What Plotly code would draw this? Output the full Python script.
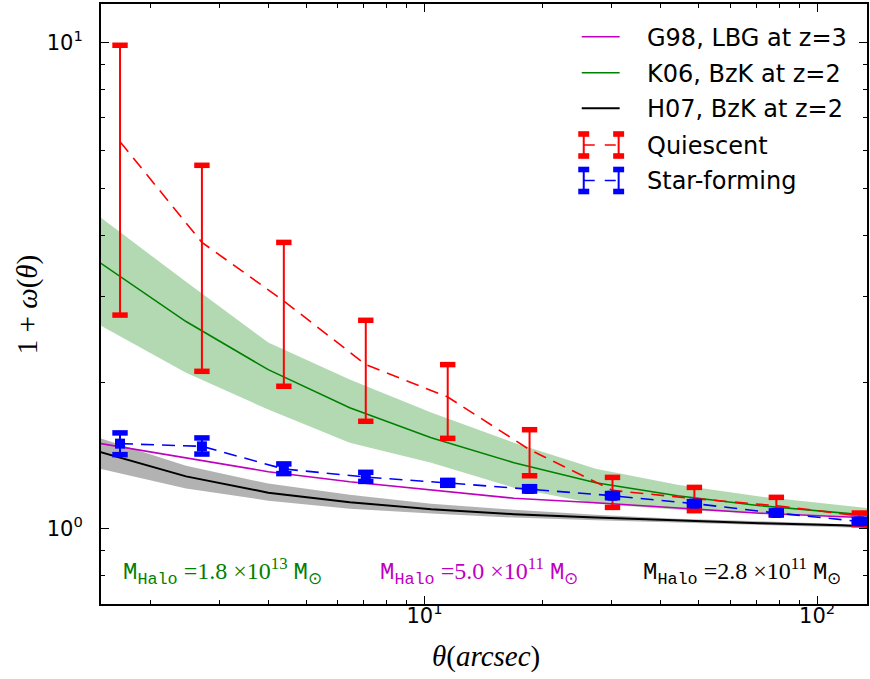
import numpy as np
import plotly.graph_objects as go

# ---------------- data ----------------
theta_bins = [1.677, 2.711, 4.383, 7.087, 11.46, 18.52, 30.12, 48.69, 78.74, 128.1]

q_mean  = [6.25, 3.88, 2.94, 2.175, 1.866, 1.454, 1.199, 1.153, 1.115, 1.063]
q_upper = [9.87, 5.59, 3.88, 2.683, 2.175, 1.598, 1.275, 1.216, 1.160, 1.077]
q_lower = [2.75, 2.107, 1.963, 1.663, 1.534, 1.285, 1.106, 1.089, 1.069, 1.019]

s_mean  = [1.496, 1.477, 1.327, 1.277, 1.242, 1.207, 1.169, 1.126, 1.077, 1.035]
s_upper = [1.574, 1.537, 1.359, 1.306, 1.257, 1.220, 1.181, 1.137, 1.088, 1.045]
s_lower = [1.420, 1.424, 1.298, 1.251, 1.228, 1.195, 1.158, 1.116, 1.067, 1.026]

model_theta = [1.45, 2.47, 4.0, 6.45, 10.4, 16.9, 27.3, 44.1, 71.5, 115.6, 140.0]
k06    = [3.58, 2.667, 2.124, 1.774, 1.539, 1.367, 1.243, 1.169, 1.115, 1.079, 1.063]
k06_hi = [4.45, 3.22, 2.414, 2.026, 1.733, 1.503, 1.329, 1.232, 1.164, 1.115, 1.099]
k06_lo = [2.654, 2.094, 1.758, 1.503, 1.367, 1.214, 1.126, 1.094, 1.074, 1.061, 1.056]
g98    = [1.503, 1.40, 1.31, 1.249, 1.203, 1.155, 1.131, 1.102, 1.076, 1.058, 1.053]
h07    = [1.447, 1.281, 1.186, 1.134, 1.097, 1.071, 1.054, 1.039, 1.026, 1.017, 1.009]
h07_hi = [1.546, 1.348, 1.238, 1.175, 1.126, 1.094, 1.068, 1.048, 1.036, 1.024, 1.017]
h07_lo = [1.335, 1.209, 1.142, 1.099, 1.074, 1.054, 1.041, 1.029, 1.019, 1.007, 1.002]

legend_labels = ["G98, LBG at z=3", "K06, BzK at z=2", "H07, BzK at z=2", "Quiescent", "Star-forming"]
halo_labels = [("1.8", "13"), ("5.0", "11"), ("2.8", "11")]

x_tickvals = [10, 100]
x_ticktext = ["10<sup>1</sup>", "10<sup>2</sup>"]
y_tickvals = [1, 10]
y_ticktext = ["10<sup>0</sup>", "10<sup>1</sup>"]

# ---------------- style ----------------
GREEN = "#008000"
MAGENTA = "#bf00bf"
RED = "#ff0000"
BLUE = "#0000ff"
DASH = "13px,8px"

W, H = 870, 679
L, R, T, B = 101, 1, 4, 75
PW, PH = W - L - R, H - T - B

def px(x):
    return (x - L) / PW

def py(y):
    return (H - B - y) / PH

fig = go.Figure()

# bands
fig.add_trace(go.Scatter(x=model_theta, y=k06_lo, mode="lines", line=dict(width=0), hoverinfo="skip", showlegend=False))
fig.add_trace(go.Scatter(x=model_theta, y=k06_hi, mode="lines", line=dict(width=0), fill="tonexty",
                         fillcolor="rgba(0,128,0,0.3)", hoverinfo="skip", showlegend=False))
fig.add_trace(go.Scatter(x=model_theta, y=h07_lo, mode="lines", line=dict(width=0), hoverinfo="skip", showlegend=False))
fig.add_trace(go.Scatter(x=model_theta, y=h07_hi, mode="lines", line=dict(width=0), fill="tonexty",
                         fillcolor="rgba(0,0,0,0.3)", hoverinfo="skip", showlegend=False))

# model lines
fig.add_trace(go.Scatter(x=model_theta, y=g98, mode="lines", line=dict(color=MAGENTA, width=1.6), showlegend=False))
fig.add_trace(go.Scatter(x=model_theta, y=k06, mode="lines", line=dict(color=GREEN, width=1.6), showlegend=False))
fig.add_trace(go.Scatter(x=model_theta, y=h07, mode="lines", line=dict(color="black", width=2), showlegend=False))

# quiescent
q_plus = [u - m for u, m in zip(q_upper, q_mean)]
q_minus = [m - l for m, l in zip(q_mean, q_lower)]
fig.add_trace(go.Scatter(x=theta_bins, y=q_mean, mode="lines", line=dict(color=RED, width=1.6, dash=DASH),
                         error_y=dict(type="data", symmetric=False, array=q_plus, arrayminus=q_minus,
                                      thickness=2, width=0, color=RED), showlegend=False))
fig.add_trace(go.Scatter(x=theta_bins + theta_bins, y=q_upper + q_lower, mode="markers",
                         marker=dict(symbol="line-ew", size=11, line=dict(color=RED, width=5.5)), showlegend=False))

# star-forming
s_plus = [u - m for u, m in zip(s_upper, s_mean)]
s_minus = [m - l for m, l in zip(s_mean, s_lower)]
fig.add_trace(go.Scatter(x=theta_bins, y=s_mean, mode="lines+markers", line=dict(color=BLUE, width=1.6, dash=DASH),
                         marker=dict(symbol="square", size=10, color=BLUE, line=dict(width=0)),
                         error_y=dict(type="data", symmetric=False, array=s_plus, arrayminus=s_minus,
                                      thickness=2, width=0, color=BLUE), showlegend=False))
fig.add_trace(go.Scatter(x=theta_bins + theta_bins, y=s_upper + s_lower, mode="markers",
                         marker=dict(symbol="line-ew", size=11, line=dict(color=BLUE, width=5.5)), showlegend=False))

# ---------------- custom legend ----------------
shapes = []
annotations = []
rows = [36.7, 72.7, 108.3, 145.0, 180.5]
line_cols = [MAGENTA, GREEN, "black"]
for i, c in enumerate(line_cols):
    shapes.append(dict(type="line", xref="paper", yref="paper", x0=px(583), x1=px(621),
                       y0=py(rows[i]), y1=py(rows[i]), line=dict(color=c, width=2 if c == "black" else 1.6)))
for i, c in zip([3, 4], [RED, BLUE]):
    yc = rows[i]
    shapes.append(dict(type="line", xref="paper", yref="paper", x0=px(585), x1=px(620),
                       y0=py(yc), y1=py(yc), line=dict(color=c, width=1.6, dash="11px,10px")))
    for xb in (585, 620):
        shapes.append(dict(type="line", xref="paper", yref="paper", x0=px(xb), x1=px(xb),
                           y0=py(yc - 11), y1=py(yc + 11), line=dict(color=c, width=2)))
        for yy in (yc - 11, yc + 11):
            shapes.append(dict(type="rect", xref="paper", yref="paper", x0=px(xb - 5.5), x1=px(xb + 5.5),
                               y0=py(yy - 2.8), y1=py(yy + 2.8), fillcolor=c, line=dict(width=0)))
for i, lab in enumerate(legend_labels):
    annotations.append(dict(text=lab, xref="paper", yref="paper", x=px(646), y=py(rows[i] + 1),
                            xanchor="left", yanchor="middle", showarrow=False,
                            font=dict(family="DejaVu Sans", size=24, color="black")))

# halo mass labels
TT = "Liberation Mono"
RM = "Liberation Serif"
halo_cols = [GREEN, MAGENTA, "black"]
halo_x = [121, 379, 642]
for (mant, expo), c, xx in zip(halo_labels, halo_cols, halo_x):
    txt = (f"<span style='font-family:{TT}'>M<sub>Halo</sub></span>"
           f"<span style='font-family:{RM}'> =" + mant + " ×10<sup>" + expo + "</sup> </span>"
           f"<span style='font-family:{TT}'>M<sub>⊙</sub></span>")
    annotations.append(dict(text=txt, xref="paper", yref="paper", x=px(xx), y=py(571),
                            xanchor="left", yanchor="middle", showarrow=False,
                            font=dict(family=RM, size=24, color=c)))

# axis titles
annotations.append(dict(text="<i>θ</i>(<i>arcsec</i>)", xref="paper", yref="paper", x=px(487), y=py(656),
                        xanchor="center", yanchor="middle", showarrow=False,
                        font=dict(family="Liberation Serif", size=29, color="black")))
annotations.append(dict(text="1 + <i>ω</i>(<i>θ</i>)", xref="paper", yref="paper", x=px(27), y=py(305),
                        xanchor="center", yanchor="middle", showarrow=False, textangle=-90,
                        font=dict(family="Liberation Serif", size=29, color="black")))

axis_common = dict(type="log", showgrid=False, zeroline=False, showline=True, linewidth=2, linecolor="black",
                   mirror="ticks", ticks="inside", ticklen=8, tickwidth=1.3, tickcolor="black",
                   tickfont=dict(family="DejaVu Sans", size=21, color="black"))

fig.update_layout(
    width=W, height=H,
    margin=dict(l=L, r=R, t=T, b=B, pad=0),
    paper_bgcolor="white", plot_bgcolor="white",
    showlegend=False,
    shapes=shapes, annotations=annotations,
    xaxis=dict(range=[np.log10(1.5), np.log10(134)], tickmode="array", tickvals=x_tickvals, ticktext=x_ticktext,
               minor=dict(tickmode="array", tickvals=[2, 3, 4, 5, 6, 7, 8, 9, 20, 30, 40, 50, 60, 70, 80, 90],
                          ticks="inside", ticklen=4, tickwidth=1, tickcolor="black", showgrid=False),
               ticklabelstandoff=-8, **axis_common),
    yaxis=dict(range=[np.log10(0.7), np.log10(12)], tickmode="array", tickvals=y_tickvals, ticktext=y_ticktext,
               minor=dict(tickmode="array", tickvals=[0.7, 0.8, 0.9, 2, 3, 4, 5, 6, 7, 8, 9],
                          ticks="inside", ticklen=4, tickwidth=1, tickcolor="black", showgrid=False),
               ticklabelstandoff=12, **axis_common),
)

fig.write_html("out.html")
